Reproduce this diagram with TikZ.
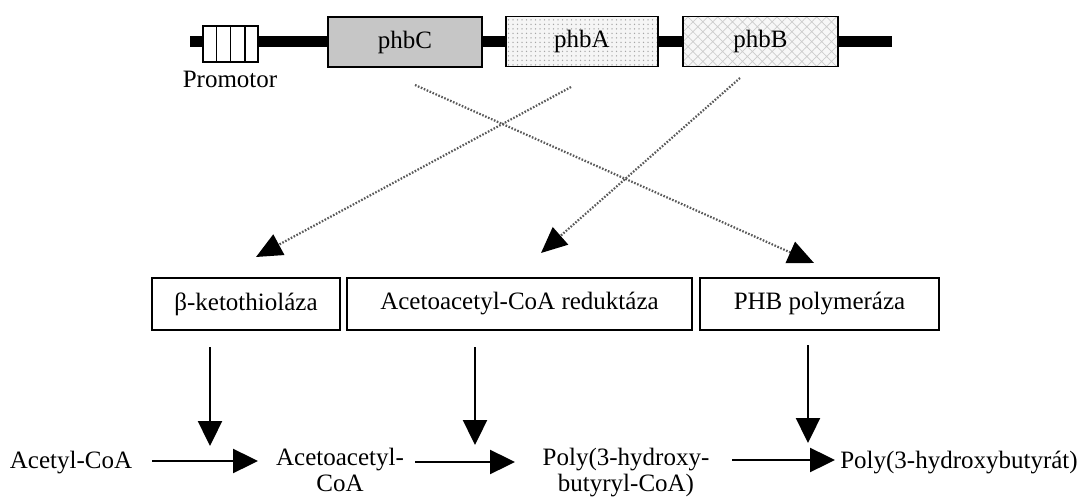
\documentclass[tikz,border=0pt]{standalone}
\usepackage{fontspec}
\setmainfont{Liberation Serif}
\usetikzlibrary{arrows.meta,patterns,patterns.meta,calc}
\begin{document}
\begin{tikzpicture}[x=1pt,y=-1pt,
  txt/.style={font=\fontsize{25}{26}\selectfont, inner sep=0pt},
  gene/.style={draw, line width=1.8pt, minimum height=50pt, inner sep=0pt, font=\fontsize{25}{29}\selectfont},
  enz/.style={draw, line width=1.8pt, minimum height=52pt, inner sep=0pt, font=\fontsize{25}{29}\selectfont},
  arr/.style={line width=2.4pt, -{Triangle[length=25pt,width=24pt]}},
  dotarr/.style={line width=2.2pt, color=black!65, dash pattern=on 1.6pt off 1.6pt,
     -{Triangle[length=26pt,width=23pt,color=black,fill=black]}}]
\useasboundingbox (0,0) rectangle (1082,497);
% gene line
\coordinate (l0) at (190,42);
\coordinate (l1) at (892,42);
\draw[line width=11pt] (l0) -- (l1);
% promoter
\node[draw, fill=white, line width=1.8pt, minimum width=55pt, minimum height=36pt, inner sep=0pt] (prom) at (230.5,44) {};
\foreach \i in {1,2,3}
  \draw[line width=1.6pt] ($(prom.north west)!\i/4!(prom.north east)$) -- ($(prom.south west)!\i/4!(prom.south east)$);
\node[txt, anchor=base] (promtxt) at (230,88) {Promotor};
% genes
\node[gene, fill=gray!45, minimum width=154pt] (phbC) at (405,42) {phbC};
\node[gene, minimum width=152pt, preaction={fill=gray!8}, preaction={pattern={Dots[distance=4.5pt,radius=0.75pt]}, pattern color=gray!70}] (phbAbox) at (582,41.5) {};
\node[txt] (phbA) at (582,41.5) {phbA};
\node[gene, minimum width=155pt, preaction={fill=gray!6}, preaction={pattern={Hatch[angle=45,distance=7pt,line width=0.7pt]}, pattern color=gray!40}] (phbBbox) at (760.5,41.5) {};
\node[txt] (phbB) at (760.5,41.5) {phbB};
% enzymes
\node[enz, minimum width=188pt] (enz1) at (246,304) {β-ketothioláza};
\node[enz, minimum width=345pt] (enz2) at (519.5,304) {Acetoacetyl-CoA reduktáza};
\node[enz, minimum width=239pt] (enz3) at (819.5,304) {PHB polymeráza};
% dotted connectors
\coordinate (sA) at (571,87);
\coordinate (tA) at (256,257);
\coordinate (sB) at (740,78);
\coordinate (tB) at (541,253);
\coordinate (sC) at (415,85);
\coordinate (tC) at (814,263);
\draw[dotarr] (sA) -- (tA);
\draw[dotarr] (sB) -- (tB);
\draw[dotarr] (sC) -- (tC);
% metabolites
\node[txt, anchor=base] (m1) at (71,468) {Acetyl-CoA};
\node[txt, anchor=base, align=center] (m2) at (340,491) {Acetoacetyl-\\CoA};
\node[txt, anchor=base, align=center] (m3) at (626,491) {Poly(3-hydroxy-\\butyryl-CoA)};
\node[txt, anchor=base] (m4) at (959,468) {Poly(3-hydroxybutyrát)};
% reaction arrows
\coordinate (h1a) at (152,461); \coordinate (h1b) at (258,461);
\coordinate (h2a) at (415,462); \coordinate (h2b) at (515,462);
\coordinate (h3a) at (732,460); \coordinate (h3b) at (835,460);
\draw[arr] (h1a) -- (h1b);
\draw[arr] (h2a) -- (h2b);
\draw[arr] (h3a) -- (h3b);
\coordinate (d1a) at (210,347); \coordinate (d1b) at (210,446);
\coordinate (d2a) at (475,347); \coordinate (d2b) at (475,445);
\coordinate (d3a) at (808,345); \coordinate (d3b) at (808,443);
\draw[arr] (d1a) -- (d1b);
\draw[arr] (d2a) -- (d2b);
\draw[arr] (d3a) -- (d3b);
\end{tikzpicture}
\end{document}
